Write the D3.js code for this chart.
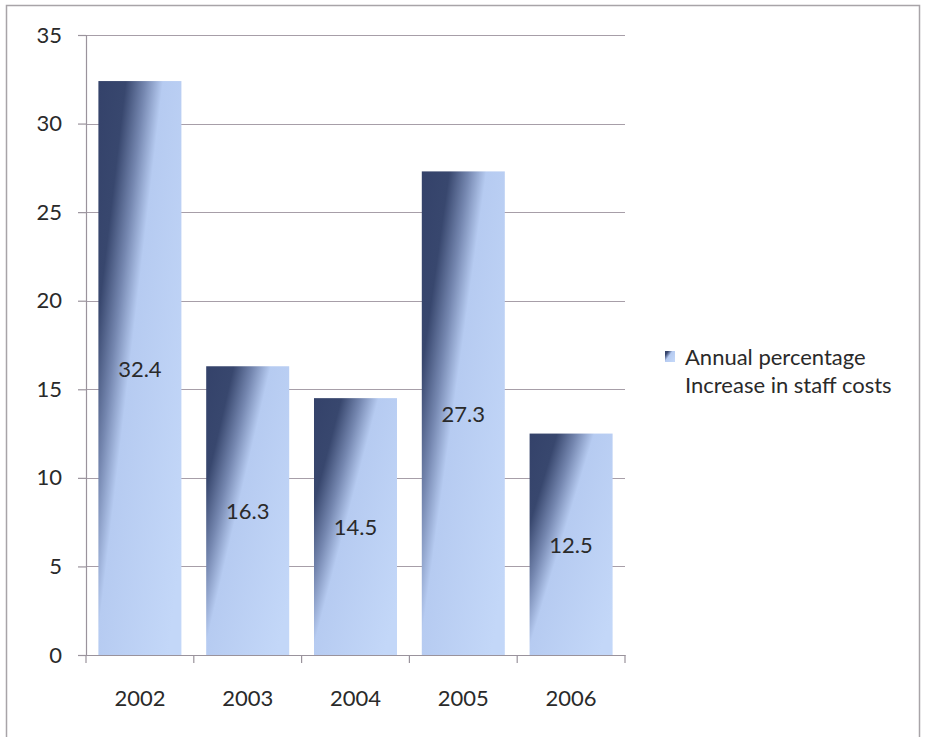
<!DOCTYPE html>
<html>
<head>
<meta charset="utf-8">
<script src="https://cdn.jsdelivr.net/npm/d3@7"></script>
<style>
  body { margin: 0; background: #fff; }
  svg text { font-family: Lato, "Open Sans", sans-serif; fill: #2a2a2a; }
</style>
</head>
<body>
<svg id="chart" width="925" height="737"></svg>
<script>
// chart data
const years = ["2002", "2003", "2004", "2005", "2006"];
const increase = [32.4, 16.3, 14.5, 27.3, 12.5];
const yTicks = [0, 5, 10, 15, 20, 25, 30, 35];
const seriesName = ["Annual percentage", "Increase in staff costs"];

let svg = d3.select("#chart");

let margin = {top: 35, right: 300, bottom: 82, left: 86},
    width = +svg.attr("width") - margin.left - margin.right,
    height = +svg.attr("height") - margin.top - margin.bottom;

// outer frame
svg.append("rect")
    .attr("x", 6.5).attr("y", 5.5)
    .attr("width", 913).attr("height", 740)
    .attr("fill", "none")
    .attr("stroke", "#a8a4a8")
    .attr("stroke-width", 1.5);

let defs = svg.append("defs");
let grad = defs.append("linearGradient")
    .attr("id", "barGrad")
    .attr("x1", 0).attr("y1", 0)
    .attr("x2", 1).attr("y2", 0.81);
grad.append("stop").attr("offset", 0).attr("stop-color", "#34426a");
grad.append("stop").attr("offset", 0.2).attr("stop-color", "#38476e");
grad.append("stop").attr("offset", 0.34).attr("stop-color", "#7587b0");
grad.append("stop").attr("offset", 0.47).attr("stop-color", "#b6cbf1");
grad.append("stop").attr("offset", 1).attr("stop-color", "#c3d7f8");

let g = svg.append("g").attr("transform", "translate(" + margin.left + "," + margin.top + ")");

let x = d3.scaleBand()
    .domain(years)
    .range([0, width])
    .paddingInner(0.23)
    .paddingOuter(0.115);

let y = d3.scaleLinear()
    .domain([0, 35])
    .range([height, 0]);

// gridlines
g.append("g")
    .selectAll("line")
    .data(yTicks.filter(d => d > 0))
    .enter()
    .append("line")
        .attr("x1", 0)
        .attr("x2", width)
        .attr("y1", d => Math.round(y(d)) + 0.5)
        .attr("y2", d => Math.round(y(d)) + 0.5)
        .attr("stroke", "#a79ea8")
        .attr("stroke-width", 1.2);

// y axis
let yAxis = g.append("g")
    .call(d3.axisLeft(y).tickValues(yTicks).tickSize(8).tickPadding(16));
yAxis.select(".domain").attr("stroke", "#9a939c").attr("stroke-width", 1.2);
yAxis.selectAll(".tick line").attr("stroke", "#9a939c").attr("stroke-width", 1.2);
yAxis.selectAll("text").style("font-size", "22px").attr("fill", "#2a2a2a");

// bars
g.selectAll("rect.bar")
    .data(increase)
    .enter()
    .append("rect")
        .attr("class", "bar")
        .attr("x", (d, i) => x(years[i]))
        .attr("width", x.bandwidth())
        .attr("y", d => y(d))
        .attr("height", d => height - y(d))
        .attr("fill", "url(#barGrad)");

// value labels
g.selectAll("text.val")
    .data(increase)
    .enter()
    .append("text")
        .attr("class", "val")
        .attr("x", (d, i) => x(years[i]) + x.bandwidth() / 2)
        .attr("y", d => (y(d) + height) / 2 + 8.5)
        .attr("text-anchor", "middle")
        .style("font-size", "22px")
        .text(d => d.toFixed(1));

// x axis
let xAxis = g.append("g")
    .attr("transform", "translate(0," + height + ")")
    .call(d3.axisBottom(x).tickSize(0).tickPadding(35));
xAxis.select(".domain").attr("stroke", "#9a939c").attr("stroke-width", 1.2);
xAxis.selectAll("text").style("font-size", "22px").attr("fill", "#2a2a2a");

// category boundary ticks
g.append("g")
    .selectAll("line")
    .data(d3.range(years.length + 1))
    .enter()
    .append("line")
        .attr("x1", i => i * width / years.length)
        .attr("x2", i => i * width / years.length)
        .attr("y1", height)
        .attr("y2", height + 8)
        .attr("stroke", "#9a939c")
        .attr("stroke-width", 1.2);

// legend
let legend = svg.append("g").attr("transform", "translate(665,351)");
legend.append("rect")
    .attr("width", 10).attr("height", 11)
    .attr("fill", "url(#barGrad)");
legend.selectAll("text")
    .data(seriesName)
    .enter()
    .append("text")
        .attr("x", 20)
        .attr("y", (d, i) => 14 + i * 28)
        .style("font-size", "22px")
        .text(d => d);
</script>
</body>
</html>
